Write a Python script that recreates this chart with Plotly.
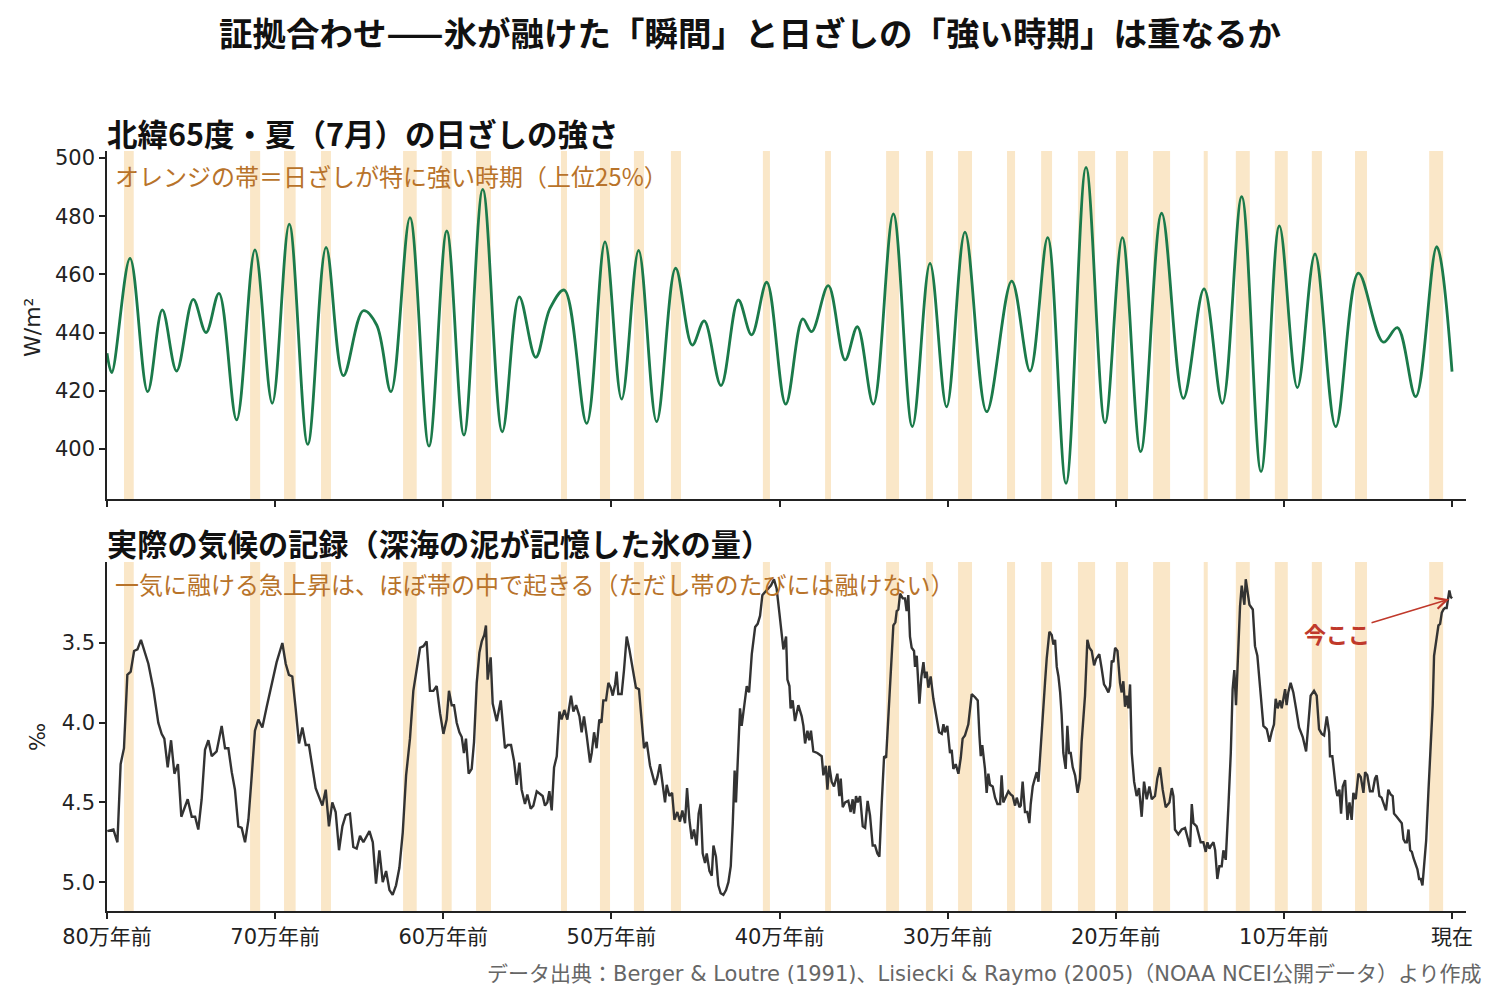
import plotly.graph_objects as go

# ---------------- data ----------------
# Insolation 65N July (W/m2): extrema (age in kyr, negative = before present)
ins_age = [-800, -797.2, -786.3, -775.8, -767.1, -758.6, -748.7, -741.1, -733.4, -722.9,
           -712.0, -701.7, -691.6, -680.6, -669.7, -659.4, -647.6, -639.6, -631.1, -619.8,
           -608.5, -597.9, -587.7, -576.5, -564.9, -554.8, -545.0, -536.5, -528.0, -514.7,
           -503.8, -493.9, -483.8, -473.1, -461.8, -451.9, -444.8, -434.8, -424.5, -416.6,
           -407.6, -396.3, -386.2, -380.9, -371.0, -361.0, -353.7, -344.2, -332.3, -321.0,
           -310.5, -300.6, -289.7, -276.8, -261.9, -251.0, -240.5, -229.6, -217.7, -206.4,
           -196.1, -185.2, -172.7, -159.8, -147.5, -136.6, -125.1, -113.6, -102.7, -92.0,
           -81.5, -69.2, -55.7, -40.9, -32.5, -21.6, -9.1, 0]
ins_wm2 = [432.9, 426.2, 465.5, 419.7, 447.8, 426.8, 451.4, 440.0, 453.5, 410.0,
           468.4, 415.7, 477.3, 401.6, 469.3, 425.2, 447.5, 442.6, 419.7, 479.5,
           401.0, 474.9, 404.8, 489.2, 405.9, 452.3, 431.5, 448.3, 454.6, 408.8,
           471.2, 417.1, 468.2, 409.4, 462.1, 435.7, 444.0, 421.8, 451.2, 439.2,
           457.3, 415.4, 444.7, 440.3, 456.1, 430.6, 442.0, 415.4, 480.8, 407.7,
           463.8, 414.5, 474.5, 412.8, 457.7, 426.8, 472.6, 388.2, 496.8, 409.0,
           472.6, 399.1, 481.0, 417.4, 455.0, 415.7, 486.7, 392.2, 476.7, 421.1,
           467.0, 407.7, 460.4, 436.7, 441.7, 418.0, 469.5, 426.6]

# High-insolation (top 25%) bands: start / end age (kyr)
band_start = [-789.9, -714.9, -694.7, -672.7, -623.9, -600.9, -580.5, -530.0, -506.8, -486.6,
              -464.6, -409.9, -372.9, -336.6, -312.9, -293.8, -264.7, -244.4, -222.5, -199.9,
              -177.8, -147.7, -128.6, -105.4, -83.4, -57.7, -13.6]
band_end = [-784.1, -708.9, -687.8, -666.8, -615.8, -595.0, -571.6, -526.4, -500.8, -480.6,
            -458.6, -405.7, -369.4, -328.9, -308.7, -285.5, -259.9, -237.9, -212.3, -192.7,
            -167.7, -145.3, -120.3, -97.7, -77.4, -50.6, -5.3]

# Benthic d18O (permil)
d18o_age = [
    -799.8, -796.2, -793.8, -791.9, -789.9, -787.9, -785.9, -783.9, -781.9, -779.8,
    -775.4, -772.4, -769.5, -767.5, -765.9, -763.9, -761.9, -759.9, -757.8, -755.8,
    -752.0, -749.6, -747.6, -745.7, -743.7, -741.7, -739.7, -737.7, -734.8, -731.8,
    -729.8, -727.8, -725.8, -723.9, -721.9, -719.9, -717.9, -715.9, -713.9, -712.0,
    -710.0, -707.6, -705.0, -702.1, -699.1, -695.7, -693.7, -691.8, -689.8, -687.8,
    -685.8, -683.8, -681.8, -679.9, -677.9, -675.9, -671.9, -669.9, -668.0, -666.0,
    -664.0, -662.0, -660.0, -658.0, -655.5, -653.5, -651.5, -649.5, -647.5, -643.9,
    -641.9, -640.0, -638.0, -636.0, -634.0, -632.0, -630.1, -628.1, -626.1, -624.1,
    -622.1, -619.8, -617.8, -615.8, -613.8, -611.8, -609.9, -607.9, -605.9, -603.9,
    -601.9, -599.9, -598.0, -596.6, -595.0, -593.6, -592.0, -590.4, -589.0, -587.7,
    -586.5, -584.9, -583.1, -581.7, -580.1, -578.5, -577.1, -575.6, -574.6, -573.6,
    -571.8, -570.6, -568.2, -565.8, -563.3, -561.7, -559.7, -557.9, -556.3, -554.7,
    -553.4, -551.4, -550.0, -548.0, -546.4, -544.4, -542.4, -540.9, -539.5, -538.1,
    -536.9, -535.5, -534.1, -532.5, -530.9, -529.6, -528.0, -526.2, -524.0, -522.6,
    -521.0, -519.0, -517.7, -516.3, -514.7, -512.7, -511.7, -510.3, -508.8, -507.2,
    -505.9, -504.8, -503.2, -501.8, -500.4, -499.2, -497.8, -496.9, -495.9, -493.9,
    -492.5, -490.9, -489.3, -487.3, -485.4, -483.6, -482.0, -480.6, -479.0, -477.0,
    -474.0, -472.6, -471.1, -469.5, -468.1, -467.1, -465.5, -463.9, -462.5, -460.8,
    -459.2, -457.8, -456.2, -455.0, -453.6, -452.2, -450.9, -449.3, -448.1, -446.9,
    -445.7, -444.3, -443.3, -441.7, -440.3, -439.3, -437.8, -436.4, -435.0, -433.4,
    -431.8, -430.4, -429.0, -427.8, -426.7, -425.9, -424.5, -423.5, -422.5, -421.1,
    -419.5, -418.1, -416.5, -414.5, -413.0, -411.6, -410.2, -408.6, -406.6, -405.1,
    -403.3, -401.7, -400.1, -398.7, -397.7, -396.1, -395.3, -394.1, -393.4, -392.2,
    -390.8, -388.8, -386.8, -385.8, -384.8, -383.4, -382.3, -381.3, -379.9, -377.5,
    -374.9, -373.9, -372.5, -371.5, -370.4, -369.0, -367.6, -365.6, -364.4, -363.6,
    -362.4, -361.0, -359.1, -357.7, -356.5, -355.7, -354.5, -353.5, -352.1, -350.5,
    -349.1, -347.6, -346.2, -344.6, -343.2, -341.8, -340.6, -339.2, -337.8, -336.6,
    -335.9, -334.7, -333.3, -332.3, -331.1, -330.3, -329.3, -328.3, -326.7, -325.4,
    -324.4, -323.4, -322.4, -321.4, -320.0, -319.4, -318.4, -316.8, -315.6, -314.4,
    -313.5, -312.5, -311.5, -310.1, -308.5, -306.5, -305.1, -303.5, -302.5, -301.6,
    -300.2, -298.6, -297.6, -296.6, -295.2, -293.6, -292.2, -291.1, -289.7, -287.7,
    -285.7, -283.7, -282.1, -281.1, -280.3, -279.4, -277.8, -276.8, -275.8, -274.8,
    -273.2, -271.8, -270.4, -268.8, -267.9, -266.9, -264.9, -263.9, -262.5, -261.3,
    -259.9, -258.9, -257.3, -256.5, -255.4, -254.0, -252.6, -251.4, -250.6, -249.4,
    -248.4, -247.0, -246.0, -244.7, -243.1, -242.1, -241.1, -239.5, -238.1, -237.1,
    -236.1, -235.1, -234.1, -233.1, -232.2, -231.2, -229.8, -228.8, -227.8, -226.8,
    -225.6, -224.2, -222.7, -221.3, -220.3, -219.3, -218.3, -216.9, -215.7, -214.3,
    -212.9, -211.7, -209.8, -208.4, -207.0, -205.8, -204.4, -203.4, -202.4, -201.4,
    -200.4, -199.0, -197.5, -196.5, -195.5, -194.5, -193.5, -192.5, -191.5, -190.5,
    -189.1, -187.6, -186.2, -184.6, -183.2, -181.6, -180.0, -178.6, -176.7, -175.3,
    -173.7, -172.1, -170.3, -168.1, -166.7, -165.7, -164.8, -162.8, -160.8, -158.8,
    -157.4, -155.8, -154.8, -153.8, -151.9, -150.9, -149.5, -147.9, -146.5, -145.5,
    -144.3, -143.3, -141.9, -140.9, -139.6, -138.4, -137.0, -136.0, -134.6, -133.0,
    -131.6, -130.5, -129.5, -128.5, -127.5, -126.1, -125.1, -124.1, -123.5, -122.7,
    -121.7, -120.5, -118.5, -117.2, -115.8, -114.2, -112.2, -110.2, -108.6, -107.3,
    -105.9, -104.9, -103.7, -102.3, -101.3, -100.3, -99.3, -98.4, -97.4, -96.0,
    -94.4, -92.8, -91.0, -88.8, -86.8, -85.4, -84.1, -82.1, -80.5, -79.1,
    -77.5, -76.1, -74.5, -73.1, -72.6, -71.2, -70.2, -69.0, -68.2, -67.0,
    -66.0, -65.0, -63.6, -62.2, -61.0, -59.7, -58.7, -57.3, -55.7, -54.3,
    -52.7, -51.7, -50.4, -48.8, -47.2, -45.8, -44.8, -43.2, -41.9, -40.8,
    -39.3, -37.9, -36.5, -35.3, -34.5, -32.9, -31.3, -29.9, -28.9, -27.9,
    -26.9, -25.9, -24.9, -23.9, -22.9, -21.4, -20.6, -19.6, -18.6, -17.6,
    -16.6, -15.4, -14.0, -12.6, -11.5, -10.7, -9.5, -8.7, -8.1, -7.1,
    -6.1, -5.1, -4.2, -3.2, -2.3, -1.6, -0.8, 0.0]
d18o_val = [
    4.68, 4.67, 4.75, 4.26, 4.16, 3.70, 3.68, 3.55, 3.54, 3.48,
    3.63, 3.79, 4.00, 4.07, 4.10, 4.28, 4.11, 4.32, 4.26, 4.59,
    4.48, 4.59, 4.59, 4.67, 4.48, 4.17, 4.11, 4.21, 4.18, 4.02,
    4.16, 4.16, 4.31, 4.42, 4.65, 4.66, 4.75, 4.61, 4.33, 4.05,
    3.98, 4.03, 3.90, 3.77, 3.62, 3.50, 3.63, 3.70, 3.71, 3.91,
    4.13, 4.03, 4.14, 4.14, 4.27, 4.41, 4.52, 4.42, 4.65, 4.50,
    4.56, 4.80, 4.65, 4.58, 4.57, 4.78, 4.79, 4.71, 4.75, 4.68,
    4.75, 5.01, 4.80, 5.00, 4.93, 5.05, 5.08, 5.02, 4.91, 4.69,
    4.33, 4.10, 3.80, 3.66, 3.53, 3.52, 3.49, 3.80, 3.80, 3.77,
    3.94, 4.07, 3.98, 3.80, 3.89, 3.89, 4.00, 4.06, 4.09, 4.19,
    4.10, 4.32, 4.29, 4.12, 3.75, 3.56, 3.49, 3.45, 3.39, 3.73,
    3.59, 3.88, 3.99, 3.86, 4.16, 4.14, 4.14, 4.24, 4.39, 4.25,
    4.42, 4.51, 4.45, 4.54, 4.52, 4.43, 4.45, 4.46, 4.52, 4.50,
    4.43, 4.55, 4.28, 4.21, 3.93, 3.98, 3.92, 3.98, 3.83, 3.93,
    3.89, 3.96, 4.06, 3.96, 4.08, 4.25, 4.19, 4.06, 4.16, 3.98,
    4.00, 3.86, 3.86, 3.75, 3.78, 3.83, 3.76, 3.68, 3.82, 3.82,
    3.67, 3.46, 3.54, 3.66, 3.78, 3.79, 3.98, 4.16, 4.12, 4.27,
    4.39, 4.34, 4.26, 4.40, 4.50, 4.39, 4.46, 4.44, 4.61, 4.56,
    4.62, 4.55, 4.63, 4.41, 4.61, 4.73, 4.67, 4.77, 4.57, 4.51,
    4.82, 4.88, 4.82, 4.93, 4.96, 4.77, 4.84, 5.02, 5.07, 5.08,
    5.05, 5.00, 4.90, 4.63, 4.30, 4.50, 4.12, 3.91, 4.02, 3.91,
    3.77, 3.81, 3.57, 3.40, 3.38, 3.33, 3.20, 3.18, 3.16, 3.14,
    3.10, 3.16, 3.31, 3.45, 3.54, 3.46, 3.73, 3.77, 3.91, 3.86,
    3.99, 3.89, 3.96, 4.02, 4.13, 4.05, 4.11, 4.05, 4.18, 4.19,
    4.21, 4.33, 4.27, 4.42, 4.27, 4.37, 4.40, 4.32, 4.46, 4.35,
    4.53, 4.50, 4.49, 4.56, 4.48, 4.57, 4.46, 4.50, 4.46, 4.65,
    4.66, 4.49, 4.58, 4.77, 4.77, 4.82, 4.84, 4.50, 4.21, 4.22,
    4.08, 3.79, 3.56, 3.39, 3.37, 3.30, 3.29, 3.19, 3.22, 3.22,
    3.30, 3.20, 3.46, 3.53, 3.55, 3.65, 3.58, 3.88, 3.71, 3.62,
    3.72, 3.68, 3.78, 3.71, 3.85, 3.98, 4.06, 4.07, 4.01, 4.06,
    4.02, 4.19, 4.17, 4.29, 4.26, 4.32, 4.22, 4.10, 4.08, 4.01,
    3.82, 3.84, 3.86, 4.08, 4.21, 4.14, 4.29, 4.44, 4.32, 4.39,
    4.40, 4.47, 4.51, 4.51, 4.33, 4.50, 4.45, 4.43, 4.45, 4.46,
    4.52, 4.47, 4.53, 4.52, 4.37, 4.56, 4.56, 4.63, 4.51, 4.40,
    4.36, 4.31, 4.37, 4.14, 3.91, 3.75, 3.60, 3.43, 3.45, 3.51,
    3.48, 3.65, 3.71, 3.81, 3.95, 4.19, 4.29, 4.02, 4.19, 4.19,
    4.28, 4.33, 4.44, 4.35, 4.12, 3.96, 3.83, 3.48, 3.53, 3.55,
    3.64, 3.60, 3.57, 3.66, 3.76, 3.78, 3.81, 3.77, 3.61, 3.62,
    3.53, 3.55, 3.75, 3.81, 3.74, 3.90, 3.83, 3.91, 3.76, 4.19,
    4.37, 4.46, 4.41, 4.59, 4.37, 4.48, 4.40, 4.48, 4.46, 4.35,
    4.28, 4.42, 4.53, 4.50, 4.41, 4.46, 4.67, 4.70, 4.67, 4.66,
    4.71, 4.78, 4.51, 4.63, 4.65, 4.69, 4.75, 4.75, 4.81, 4.75,
    4.79, 4.77, 4.75, 4.80, 4.98, 4.90, 4.90, 4.80, 4.86, 4.52,
    4.19, 3.79, 3.67, 3.89, 3.58, 3.27, 3.14, 3.20, 3.26, 3.10,
    3.18, 3.26, 3.29, 3.52, 3.58, 3.79, 4.02, 4.04, 4.12, 4.06,
    4.01, 3.85, 3.91, 3.86, 3.91, 3.85, 3.79, 3.89, 3.81, 3.75,
    3.81, 3.91, 4.03, 4.09, 4.18, 4.00, 3.83, 3.80, 3.83, 4.04,
    4.07, 4.08, 3.96, 4.06, 4.21, 4.21, 4.31, 4.42, 4.46, 4.42,
    4.57, 4.40, 4.36, 4.61, 4.50, 4.61, 4.44, 4.48, 4.32, 4.34,
    4.44, 4.31, 4.33, 4.43, 4.43, 4.35, 4.33, 4.46, 4.47, 4.51,
    4.55, 4.42, 4.45, 4.46, 4.57, 4.59, 4.61, 4.63, 4.73, 4.75,
    4.75, 4.67, 4.80, 4.81, 4.85, 4.89, 4.92, 4.98, 4.98, 5.02,
    4.89, 4.74, 4.42, 4.08, 3.89, 3.58, 3.50, 3.42, 3.39, 3.38,
    3.31, 3.29, 3.28, 3.28, 3.21, 3.17, 3.21, 3.22]

tick_vals = [-800, -700, -600, -500, -400, -300, -200, -100, 0]
tick_text = ["80万年前", "70万年前", "60万年前", "50万年前", "40万年前",
             "30万年前", "20万年前", "10万年前", "現在"]
ins_ticks = [400, 420, 440, 460, 480, 500]
d18o_ticks = [3.5, 4.0, 4.5, 5.0]
d18o_ticktext = ["3.5", "4.0", "4.5", "5.0"]

# ---------------- styling ----------------
GREEN = "#1b7a4a"
DARK = "#333333"
BAND = "#FAE7C8"
NOTE = "#b8732a"
RED = "#c0392b"
AX = "#222222"
TICKFONT = dict(family="DejaVu Sans, Noto Sans CJK JP", size=21, color=AX)
CJK = "Noto Sans CJK JP"

fig = go.Figure()
fig.add_trace(go.Scatter(x=ins_age, y=ins_wm2, mode="lines",
                         line=dict(color=GREEN, width=2.8, shape="spline", smoothing=1.0),
                         xaxis="x", yaxis="y", showlegend=False, hoverinfo="skip"))
fig.add_trace(go.Scatter(x=d18o_age, y=d18o_val, mode="lines",
                         line=dict(color=DARK, width=2.4),
                         xaxis="x2", yaxis="y2", showlegend=False, hoverinfo="skip"))

shapes = []
for s, e in zip(band_start, band_end):
    for xr, yr in (("x", "y domain"), ("x2", "y2 domain")):
        shapes.append(dict(type="rect", xref=xr, yref=yr, x0=s, x1=e, y0=0, y1=1,
                           fillcolor=BAND, line=dict(width=0), layer="below"))

axis_common = dict(showgrid=False, zeroline=False, showline=True, linecolor=AX, linewidth=1.5,
                   ticks="outside", ticklen=6, tickwidth=1.5, tickcolor=AX, tickfont=TICKFONT)
xrange_ = [-800, 8.3]

annotations = [
    dict(text="<b>北緯65度・夏（7月）の日ざしの強さ</b>", xref="paper", yref="paper",
         x=0, y=1.0237, xanchor="left", yanchor="middle", showarrow=False, xshift=-2,
         font=dict(family=CJK, size=30.5, color="#111111")),
    dict(text="<b>実際の気候の記録（深海の泥が記憶した氷の量）</b>", xref="paper", yref="paper",
         x=0, y=0.4842, xanchor="left", yanchor="middle", showarrow=False, xshift=-2,
         font=dict(family=CJK, size=30.2, color="#111111")),
    dict(text="オレンジの帯＝日ざしが特に強い時期（上位25%）", xref="paper", yref="paper",
         x=0.0044, y=0.9684, xanchor="left", yanchor="middle", showarrow=False,
         font=dict(family=CJK, size=24, color=NOTE)),
    dict(text="一気に融ける急上昇は、ほぼ帯の中で起きる（ただし帯のたびには融けない）",
         xref="paper", yref="paper", x=0.0044, y=0.4305, xanchor="left", yanchor="middle",
         showarrow=False, font=dict(family=CJK, size=24, color=NOTE)),
    dict(text="W/m²", xref="paper", yref="paper", x=-0.0552, y=0.7684, textangle=-90,
         xanchor="center", yanchor="middle", showarrow=False,
         font=dict(family="DejaVu Sans", size=22, color=AX)),
    dict(text="‰", xref="paper", yref="paper", x=-0.0508, y=0.2289, textangle=-90,
         xanchor="center", yanchor="middle", showarrow=False,
         font=dict(family="DejaVu Sans", size=21, color=AX)),
    dict(text="データ出典：Berger & Loutre (1991)、Lisiecki & Raymo (2005)（NOAA NCEI公開データ）より作成",
         xref="paper", yref="paper", x=1.01325, y=-0.0829, xanchor="right", yanchor="middle",
         showarrow=False, font=dict(family="DejaVu Sans, Noto Sans CJK JP", size=21, color="#666666")),
    dict(text="<b>今ここ</b>", xref="x2", yref="y2", x=d18o_age[-1], y=d18o_val[-1],
         ax=-115, ay=35, axref="pixel", ayref="pixel", showarrow=True,
         arrowcolor=RED, arrowwidth=1.6, arrowhead=5, arrowsize=1.4, standoff=3,
         font=dict(family=CJK, size=22, color=RED)),
]

fig.update_layout(
    width=1500, height=990,
    margin=dict(l=107, r=34, t=151, b=79),
    paper_bgcolor="white", plot_bgcolor="white",
    title=dict(text="<b>証拠合わせ——氷が融けた「瞬間」と日ざしの「強い時期」は重なるか</b>",
               x=0.5, xref="container", xanchor="center",
               y=1 - 34 / 990, yref="container", yanchor="middle",
               font=dict(family=CJK, size=33.5, color="#111111")),
    xaxis=dict(domain=[0, 1], anchor="y", range=xrange_, tickvals=tick_vals,
               showticklabels=False, **axis_common),
    yaxis=dict(domain=[0.5421, 1], anchor="x", range=[382.8, 502.4], tickvals=ins_ticks,
               **axis_common),
    xaxis2=dict(domain=[0, 1], anchor="y2", range=xrange_, tickvals=tick_vals,
                ticktext=tick_text, matches="x", **axis_common),
    yaxis2=dict(domain=[0, 0.4592], anchor="x2", range=[5.181, 2.992], tickvals=d18o_ticks,
                ticktext=d18o_ticktext, **axis_common),
    shapes=shapes,
    annotations=annotations,
)

fig.write_html("out.html")
